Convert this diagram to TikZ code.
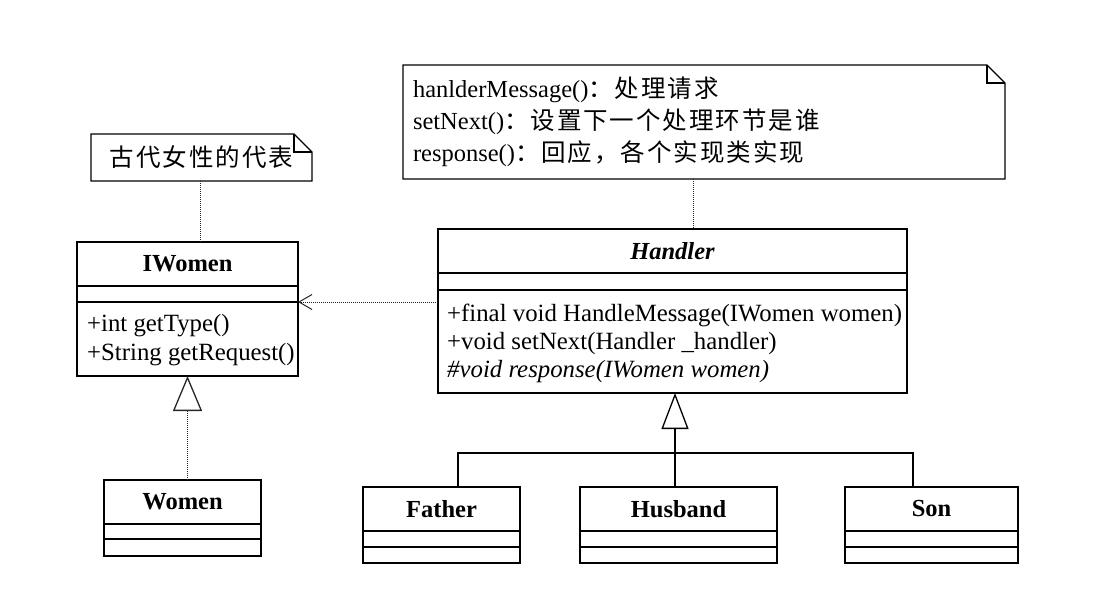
\documentclass[tikz,border=0pt]{standalone}
\usepackage{fontspec}
\setmainfont{Liberation Serif}
\newfontfamily\cjk[LetterSpace=8]{Noto Sans CJK SC}
\usetikzlibrary{arrows.meta, positioning}

\tikzset{
  cls/.style={draw, rectangle, inner sep=0pt, outer sep=0pt, line width=1.3pt,
    minimum height=44pt, font=\fontsize{24.5}{29}\selectfont\bfseries},
  slot/.style={draw, rectangle, inner sep=0pt, outer sep=0pt, line width=1.3pt},
  optext/.style={rectangle, inner sep=0pt, anchor=west, align=left,
    font=\fontsize{24.8}{28.3}\selectfont},
  notetext/.style={rectangle, inner xsep=10pt, inner ysep=0pt, outer sep=0pt,
    align=left, font=\fontsize{24.5}{32}\selectfont},
  dots/.style={line width=1pt, dash pattern=on 1pt off 1pt, black!85},
  solid line/.style={line width=1.3pt}
}

% note outline with folded corner
\newcommand{\notecorner}[1]{%
  \draw[solid line] (#1.north west) -- ([xshift=-18pt]#1.north east)
    -- ([yshift=-18pt]#1.north east) -- (#1.south east) -- (#1.south west) -- cycle;
  \draw[solid line] ([xshift=-18pt]#1.north east) |- ([yshift=-18pt]#1.north east);
}

\begin{document}
\begin{tikzpicture}[x=1pt, y=-1pt]
  \useasboundingbox (0,0) rectangle (1118,594);

  % notes
  \node[notetext, minimum width=221pt, minimum height=47pt, align=center] (n1) at (201.5,157.5) {\cjk 古代女性的代表};
  \notecorner{n1}
  \node[notetext, text width=582pt, minimum height=114pt] (n2) at (704,122) {hanlderMessage(){\cjk ：处理请求}\\
    setNext(){\cjk ：设置下一个处理环节是谁}\\
    response(){\cjk ：回应，各个实现类实现}};
  \notecorner{n2}

  % IWomen
  \node[cls, minimum width=221pt, anchor=north west] (iw) at (77,242) {IWomen};
  \node[slot, minimum width=221pt, minimum height=16pt, below=0pt of iw] (iwa) {};
  \node[slot, minimum width=221pt, minimum height=74pt, below=0pt of iwa] (iwm) {};
  \node[optext] (iwm-t) at ([xshift=10pt, yshift=-1pt]iwm.west) {+int getType()\\+String getRequest()};

  % Women
  \node[cls, minimum width=157pt, anchor=north west] (wo) at (104,480) {Women};
  \node[slot, minimum width=157pt, minimum height=15pt, below=0pt of wo] (woa) {};
  \node[slot, minimum width=157pt, minimum height=17pt, below=0pt of woa] (wom) {};

  % Handler
  \node[cls, minimum width=469pt, anchor=north west] (hd) at (438,229) {\itshape Handler};
  \node[slot, minimum width=469pt, minimum height=17pt, below=0pt of hd] (hda) {};
  \node[slot, minimum width=469pt, minimum height=103pt, below=0pt of hda] (hdm) {};
  \node[optext] (hdm-t) at ([xshift=9pt, yshift=-2pt]hdm.west) {+final void HandleMessage(IWomen women)\\
    +void setNext(Handler \_handler)\\
    \textit{\#void response(IWomen women)}};

  % Father, Husband, Son
  \node[cls, minimum width=157pt, anchor=north west] (fa) at (363,487) {Father};
  \node[slot, minimum width=157pt, minimum height=16pt, below=0pt of fa] (faa) {};
  \node[slot, minimum width=157pt, minimum height=16pt, below=0pt of faa] (fam) {};

  \node[cls, minimum width=197pt, anchor=north west] (hu) at (580,487) {Husband};
  \node[slot, minimum width=197pt, minimum height=16pt, below=0pt of hu] (hua) {};
  \node[slot, minimum width=197pt, minimum height=16pt, below=0pt of hua] (hum) {};

  \node[cls, minimum width=173pt, anchor=north west] (so) at (845,487) {Son};
  \node[slot, minimum width=173pt, minimum height=16pt, below=0pt of so] (soa) {};
  \node[slot, minimum width=173pt, minimum height=16pt, below=0pt of soa] (som) {};

  % note links
  \coordinate (l1) at (200,181);
  \coordinate (l2) at (693,179);
  \draw[dots] (l1) -- (l1 |- iw.north);
  \draw[dots] (l2) -- (l2 |- hd.north);

  % dependency
  \draw[dots, -{Straight Barb[length=13pt, width=15pt, line width=1pt]}] (hdm.west |- iwa.south) -- (iwa.south east);

  % realization
  \draw[dots, -{Triangle[open, length=35pt, width=29pt, line width=1.3pt]}] (wo.north -| iwm.south) -- (iwm.south);

  % generalization
  \coordinate (bus) at (675,453);
  \coordinate (fj) at (458,453);
  \coordinate (sj) at (913,453);
  \draw[solid line, -{Triangle[open, length=36pt, width=27pt, line width=1.3pt]}] (hu.north -| bus) -- (bus |- hdm.south);
  \draw[solid line] (fa.north -| fj) -- (fj) -- (sj) -- (so.north -| sj);
\end{tikzpicture}
\end{document}
